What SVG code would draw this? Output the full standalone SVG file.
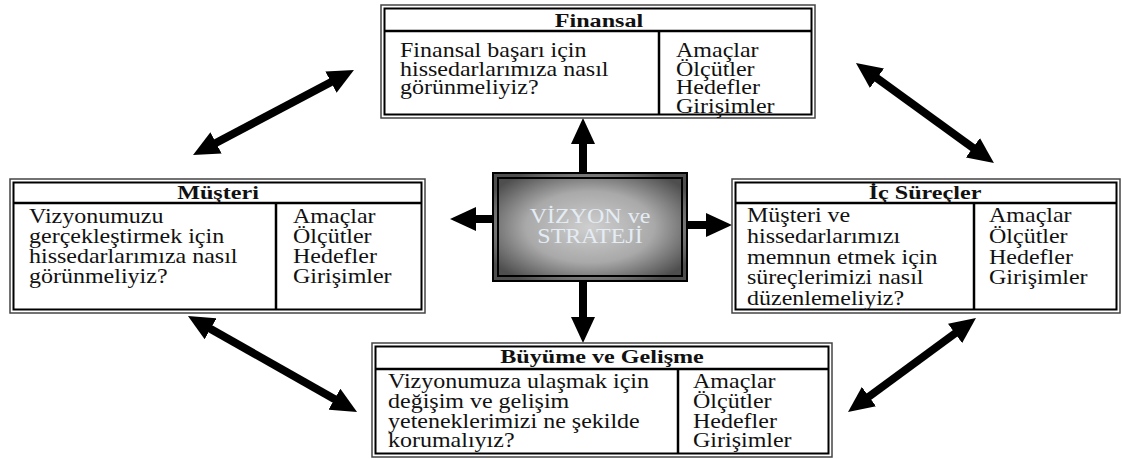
<svg xmlns="http://www.w3.org/2000/svg" width="1122" height="459" viewBox="0 0 1122 459">
  <style>
    .frame-out { fill: #fff; stroke: #444; stroke-width: 1.5; }
    .frame-in { fill: none; stroke: #000; stroke-width: 2; }
    .rule { stroke: #000; stroke-width: 2.5; fill: none; }
    .title { font-family: "Liberation Serif", "Times New Roman", serif; font-weight: bold; font-size: 19px; fill: #111; text-anchor: middle; }
    .body { font-family: "Liberation Serif", "Times New Roman", serif; font-size: 20px; fill: #111; }
    .core { font-family: "Liberation Serif", "Times New Roman", serif; font-size: 20px; fill: #e4ecf4; text-anchor: middle; }
    .link { stroke: #000; stroke-width: 8; fill: none; }
  </style>
  <defs>
    <marker id="head" viewBox="0 -12 26 24" markerWidth="26" markerHeight="24" refX="11" refY="0" markerUnits="userSpaceOnUse" orient="auto-start-reverse">
      <path d="M0,-12 L26,0 L0,12 Z" fill="#000"/>
    </marker>
    <radialGradient id="coreFill" cx="0.5" cy="0.5" r="0.6">
      <stop offset="0" stop-color="#cfcfcf"/>
      <stop offset="0.55" stop-color="#a9a9a9"/>
      <stop offset="1" stop-color="#4e4e4e"/>
    </radialGradient>
  </defs>

  <!-- connectors -->
  <g id="connectors">
    <line class="link" x1="583" y1="173" x2="583" y2="133" marker-end="url(#head)"/>
    <line class="link" x1="583" y1="281" x2="583" y2="328" marker-end="url(#head)"/>
    <line class="link" x1="493" y1="219" x2="465" y2="219" marker-end="url(#head)"/>
    <line class="link" x1="687" y1="225" x2="717" y2="225" marker-end="url(#head)"/>
    <line class="link" x1="206.3" y1="148" x2="340.7" y2="77" marker-start="url(#head)" marker-end="url(#head)"/>
    <line class="link" x1="868.1" y1="71.8" x2="981.8" y2="154.2" marker-start="url(#head)" marker-end="url(#head)"/>
    <line class="link" x1="201" y1="323.4" x2="344" y2="404.6" marker-start="url(#head)" marker-end="url(#head)"/>
    <line class="link" x1="963.9" y1="326.9" x2="860.1" y2="403.1" marker-start="url(#head)" marker-end="url(#head)"/>
  </g>

  <!-- centre: vision and strategy -->
  <g id="vizyon">
    <rect x="493" y="173" width="194" height="108" fill="url(#coreFill)" stroke="#000" stroke-width="2"/>
    <rect x="498" y="178" width="184" height="98" fill="none" stroke="#000" stroke-width="2"/>
    <text class="core" transform="matrix(1.2,0,0,1,590,0)"><tspan x="0" y="223">VİZYON ve</tspan><tspan x="0" y="243">STRATEJİ</tspan></text>
  </g>

  <!-- Finansal -->
  <g id="finansal">
    <rect class="frame-out" x="381" y="5" width="434" height="113"/>
    <rect class="frame-in" x="384.5" y="8.5" width="427" height="106"/>
    <line class="rule" x1="384.5" y1="31" x2="811.5" y2="31"/>
    <line class="rule" x1="659" y1="31" x2="659" y2="114.5"/>
    <text class="title" transform="matrix(1.27,0,0,1,599,0)" x="0" y="27">Finansal</text>
    <text class="body" transform="matrix(1.2,0,0,1,400,0)"><tspan x="0" y="57">Finansal başarı için</tspan><tspan x="0" y="76">hissedarlarımıza nasıl</tspan><tspan x="0" y="94">görünmeliyiz?</tspan></text>
    <text class="body" transform="matrix(1.2,0,0,1,676,0)"><tspan x="0" y="57">Amaçlar</tspan><tspan x="0" y="76">Ölçütler</tspan><tspan x="0" y="94">Hedefler</tspan><tspan x="0" y="113">Girişimler</tspan></text>
  </g>

  <!-- Müşteri -->
  <g id="musteri">
    <rect class="frame-out" x="10" y="179" width="415" height="134"/>
    <rect class="frame-in" x="13.5" y="182.5" width="408" height="127"/>
    <line class="rule" x1="13.5" y1="203" x2="421.5" y2="203"/>
    <line class="rule" x1="276" y1="203" x2="276" y2="309.5"/>
    <text class="title" transform="matrix(1.27,0,0,1,218,0)" x="0" y="199">Müşteri</text>
    <text class="body" transform="matrix(1.2,0,0,1,29,0)"><tspan x="0" y="223">Vizyonumuzu</tspan><tspan x="0" y="243">gerçekleştirmek için</tspan><tspan x="0" y="263">hissedarlarımıza nasıl</tspan><tspan x="0" y="283">görünmeliyiz?</tspan></text>
    <text class="body" transform="matrix(1.2,0,0,1,293,0)"><tspan x="0" y="223">Amaçlar</tspan><tspan x="0" y="243">Ölçütler</tspan><tspan x="0" y="263">Hedefler</tspan><tspan x="0" y="283">Girişimler</tspan></text>
  </g>

  <!-- İç Süreçler -->
  <g id="ic-surecler">
    <rect class="frame-out" x="732" y="179" width="388" height="134"/>
    <rect class="frame-in" x="735.5" y="182.5" width="381" height="127"/>
    <line class="rule" x1="735.5" y1="203" x2="1116.5" y2="203"/>
    <line class="rule" x1="974" y1="203" x2="974" y2="309.5"/>
    <text class="title" transform="matrix(1.27,0,0,1,925,0)" x="0" y="199">İç Süreçler</text>
    <text class="body" transform="matrix(1.2,0,0,1,747,0)"><tspan x="0" y="222">Müşteri ve</tspan><tspan x="0" y="243">hissedarlarımızı</tspan><tspan x="0" y="264">memnun etmek için</tspan><tspan x="0" y="284">süreçlerimizi nasıl</tspan><tspan x="0" y="305">düzenlemeliyiz?</tspan></text>
    <text class="body" transform="matrix(1.2,0,0,1,989,0)"><tspan x="0" y="222">Amaçlar</tspan><tspan x="0" y="243">Ölçütler</tspan><tspan x="0" y="264">Hedefler</tspan><tspan x="0" y="284">Girişimler</tspan></text>
  </g>

  <!-- Büyüme ve Gelişme -->
  <g id="buyume">
    <rect class="frame-out" x="372" y="343" width="460" height="114"/>
    <rect class="frame-in" x="375.5" y="346.5" width="453" height="107"/>
    <line class="rule" x1="375.5" y1="369" x2="828.5" y2="369"/>
    <line class="rule" x1="678" y1="369" x2="678" y2="453.5"/>
    <text class="title" transform="matrix(1.27,0,0,1,602,0)" x="0" y="363">Büyüme ve Gelişme</text>
    <text class="body" transform="matrix(1.2,0,0,1,388,0)"><tspan x="0" y="388">Vizyonumuza ulaşmak için</tspan><tspan x="0" y="408">değişim ve gelişim</tspan><tspan x="0" y="428">yeteneklerimizi ne şekilde</tspan><tspan x="0" y="447">korumalıyız?</tspan></text>
    <text class="body" transform="matrix(1.2,0,0,1,693,0)"><tspan x="0" y="388">Amaçlar</tspan><tspan x="0" y="408">Ölçütler</tspan><tspan x="0" y="428">Hedefler</tspan><tspan x="0" y="447">Girişimler</tspan></text>
  </g>
</svg>
